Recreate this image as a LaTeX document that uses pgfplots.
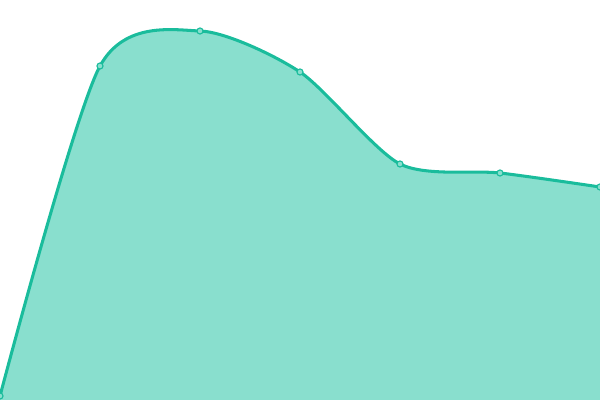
\documentclass[border=0pt]{standalone}
\usepackage{pgfplots}
\pgfplotsset{compat=1.18}
\definecolor{turq}{HTML}{1ABC9C}
\definecolor{turqfill}{HTML}{89DFCE}
\begin{document}
\begin{tikzpicture}
\begin{axis}[
    hide axis,
    scale only axis,
    width=6in, height=4in,
    xmin=0, xmax=600, ymin=0, ymax=400,
    clip=true,
    clip marker paths=true,
]
\addplot[draw=none, fill=turqfill, smooth, tension=0.45] coordinates {
    (0,4) (100,334) (200,369) (300,328) (400,236) (500,227) (600,213)
} \closedcycle;
\addplot[color=turq, line width=2.2pt, smooth, tension=0.45,
    mark=*, mark size=2.2pt,
    mark options={fill=turqfill, draw=turq, line width=0.8pt}] coordinates {
    (0,4) (100,334) (200,369) (300,328) (400,236) (500,227) (600,213)
};
\end{axis}
\pgfresetboundingbox
\path (current axis.south west) rectangle (current axis.north east);
\end{tikzpicture}
\end{document}
